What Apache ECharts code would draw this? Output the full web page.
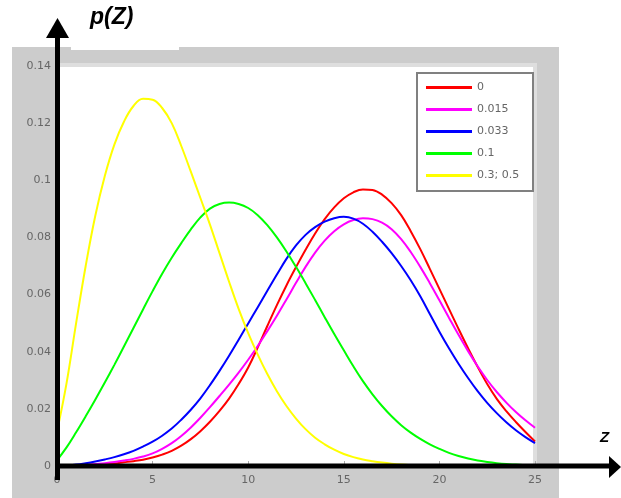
<!DOCTYPE html>
<html>
<head>
<meta charset="utf-8">
<script src="https://cdn.jsdelivr.net/npm/echarts@6/dist/echarts.min.js"></script>
<style>
  html, body { margin: 0; padding: 0; background: #fff; }
  #main { width: 621px; height: 498px; }
</style>
</head>
<body>
<div id="main"></div>
<script>
// z values
const xs = [0, 0.5, 1, 1.5, 2, 2.5, 3, 3.5, 4, 4.5,
  5, 5.5, 6, 6.5, 7, 7.5, 8, 8.5, 9, 9.5,
  10, 10.5, 11, 11.5, 12, 12.5, 13, 13.5, 14, 14.5,
  15, 15.5, 16, 16.5, 17, 17.5, 18, 18.5, 19, 19.5,
  20, 20.5, 21, 21.5, 22, 22.5, 23, 23.5, 24, 24.5, 25]

const names = ['0', '0.015', '0.033', '0.1', '0.3; 0.5']
const colors = ['#ff0000', '#ff00ff', '#0000ff', '#00ff00', '#ffff00']

const p0 = [0, 0, 0.0001, 0.0002, 0.0004, 0.0006, 0.0009, 0.0013, 0.0017, 0.0022,
  0.003, 0.004, 0.0053, 0.0071, 0.0094, 0.0122, 0.0155, 0.0193, 0.0236, 0.0287,
  0.0345, 0.0415, 0.049, 0.0563, 0.0632, 0.0696, 0.0757, 0.0814, 0.0864, 0.0905,
  0.0937, 0.0958, 0.0968, 0.0966, 0.095, 0.092, 0.0878, 0.0822, 0.0759, 0.069,
  0.062, 0.055, 0.048, 0.0412, 0.0347, 0.0287, 0.0235, 0.0192, 0.0154, 0.0119, 0.0086]

const p015 = [0, 0.0001, 0.0002, 0.0004, 0.0007, 0.001, 0.0014, 0.0019, 0.0025, 0.0033,
  0.0044, 0.006, 0.008, 0.0105, 0.0135, 0.0169, 0.0206, 0.0245, 0.0285, 0.0327,
  0.0372, 0.042, 0.0472, 0.0526, 0.0583, 0.0641, 0.0697, 0.0747, 0.0789, 0.0822,
  0.0846, 0.0861, 0.0867, 0.0864, 0.0852, 0.0829, 0.0794, 0.0749, 0.0697, 0.064,
  0.058, 0.0519, 0.0459, 0.0402, 0.0349, 0.0301, 0.0259, 0.0222, 0.0189, 0.016, 0.0134]

const p033 = [0, 0.0002, 0.0005, 0.001, 0.0016, 0.0023, 0.0031, 0.0041, 0.0053, 0.0068,
  0.0085, 0.0106, 0.0131, 0.0162, 0.0197, 0.0237, 0.0283, 0.0333, 0.0386, 0.0442,
  0.0499, 0.0556, 0.0613, 0.067, 0.0725, 0.0772, 0.0809, 0.0836, 0.0855, 0.0867,
  0.0872, 0.0866, 0.0848, 0.082, 0.0785, 0.0745, 0.07, 0.065, 0.0594, 0.0532,
  0.047, 0.0412, 0.0358, 0.0308, 0.0262, 0.0221, 0.0185, 0.0153, 0.0125, 0.0101, 0.008]

const p1 = [0.002, 0.0065, 0.0118, 0.0174, 0.0232, 0.0292, 0.0354, 0.0418, 0.0483, 0.0548,
  0.0612, 0.0673, 0.0729, 0.078, 0.0828, 0.087, 0.0901, 0.0917, 0.0922, 0.0917,
  0.0903, 0.0878, 0.0843, 0.08, 0.0751, 0.0697, 0.064, 0.0581, 0.0521, 0.0462,
  0.0405, 0.0349, 0.0297, 0.0251, 0.021, 0.0174, 0.0143, 0.0117, 0.0095, 0.0076,
  0.006, 0.0046, 0.0035, 0.0026, 0.0019, 0.0014, 0.001, 0.0007, 0.0005, 0.0003, 0.0002]

const p35 = [0.012, 0.029, 0.05, 0.07, 0.0875, 0.1015, 0.1125, 0.1205, 0.126, 0.1285,
  0.1282, 0.1253, 0.12, 0.112, 0.103, 0.0938, 0.0845, 0.0745, 0.0645, 0.055,
  0.0465, 0.039, 0.0322, 0.0262, 0.021, 0.0166, 0.0129, 0.0099, 0.0076, 0.0057,
  0.0042, 0.0031, 0.0023, 0.0017, 0.0012, 0.0008, 0.0005, 0.0003, 0.0002, 0.0001,
  0.0001, 0, 0, 0, 0, 0, 0, 0, 0, 0, 0]

const curves = [p0, p015, p033, p1, p35]

const chart = echarts.init(document.getElementById('main'))

const labelFont = 'DejaVu Sans'

chart.setOption({
  backgroundColor: '#fff',
  animation: false,
  grid: { left: 57, right: 86, top: 66, bottom: 32 },
  xAxis: {
    type: 'value',
    min: 0,
    max: 25,
    interval: 5,
    axisLine: { show: false },
    axisTick: { show: true, inside: true, length: 5, lineStyle: { color: '#aaa' } },
    splitLine: { show: false },
    axisLabel: { margin: 9, fontSize: 11, color: '#666', fontFamily: labelFont }
  },
  yAxis: {
    type: 'value',
    min: 0,
    max: 0.14,
    interval: 0.02,
    axisLine: { show: false },
    axisTick: { show: false },
    splitLine: { show: false },
    axisLabel: { margin: 6, fontSize: 11, color: '#666', fontFamily: labelFont }
  },
  legend: {
    orient: 'vertical',
    left: 420,
    top: 76,
    padding: [5, 4, 5, 6],
    itemWidth: 46,
    itemHeight: 3,
    itemGap: 9,
    icon: 'rect',
    data: names,
    textStyle: { fontSize: 11, color: '#666', fontFamily: labelFont, lineHeight: 13 }
  },
  graphic: [
    // grey frame and white plot
    { type: 'rect', z: -10, shape: { x: 12, y: 47, width: 547, height: 451 }, style: { fill: '#cccccc' } },
    { type: 'rect', z: -9, shape: { x: 57, y: 63, width: 480, height: 403 }, style: { fill: '#dedede' } },
    { type: 'rect', z: -8, shape: { x: 57, y: 67, width: 476, height: 399 }, style: { fill: '#ffffff' } },
    { type: 'rect', z: -7, shape: { x: 71, y: 0, width: 108, height: 50 }, style: { fill: '#ffffff' } },
    // legend box
    { type: 'rect', z: 1, shape: { x: 417, y: 73, width: 116, height: 118 }, style: { fill: '#ffffff', stroke: '#808080', lineWidth: 2 } },
    // axes with arrows
    { type: 'rect', z: 50, shape: { x: 55, y: 36, width: 5, height: 444 }, style: { fill: '#000' } },
    { type: 'polygon', z: 50, shape: { points: [[57.5, 18], [46, 38], [69, 38]] }, style: { fill: '#000' } },
    { type: 'rect', z: 50, shape: { x: 55, y: 463.5, width: 556, height: 5 }, style: { fill: '#000' } },
    { type: 'polygon', z: 50, shape: { points: [[621, 467], [609, 456], [609, 478]] }, style: { fill: '#000' } },
    // axis names
    { type: 'text', z: 50, left: 90, top: 6, style: { text: 'p(Z)', font: 'italic bold 23px "Liberation Sans"', fill: '#000' } },
    { type: 'text', z: 50, left: 600, top: 430, style: { text: 'Z', font: 'italic bold 15px "Liberation Sans"', fill: '#000' } }
  ],
  series: curves.map((c, i) => ({
    name: names[i],
    type: 'line',
    smooth: 0.4,
    showSymbol: false,
    symbol: 'none',
    color: colors[i],
    lineStyle: { width: 2, color: colors[i] },
    data: xs.map((x, j) => [x, c[j]])
  }))
})
</script>
</body>
</html>
